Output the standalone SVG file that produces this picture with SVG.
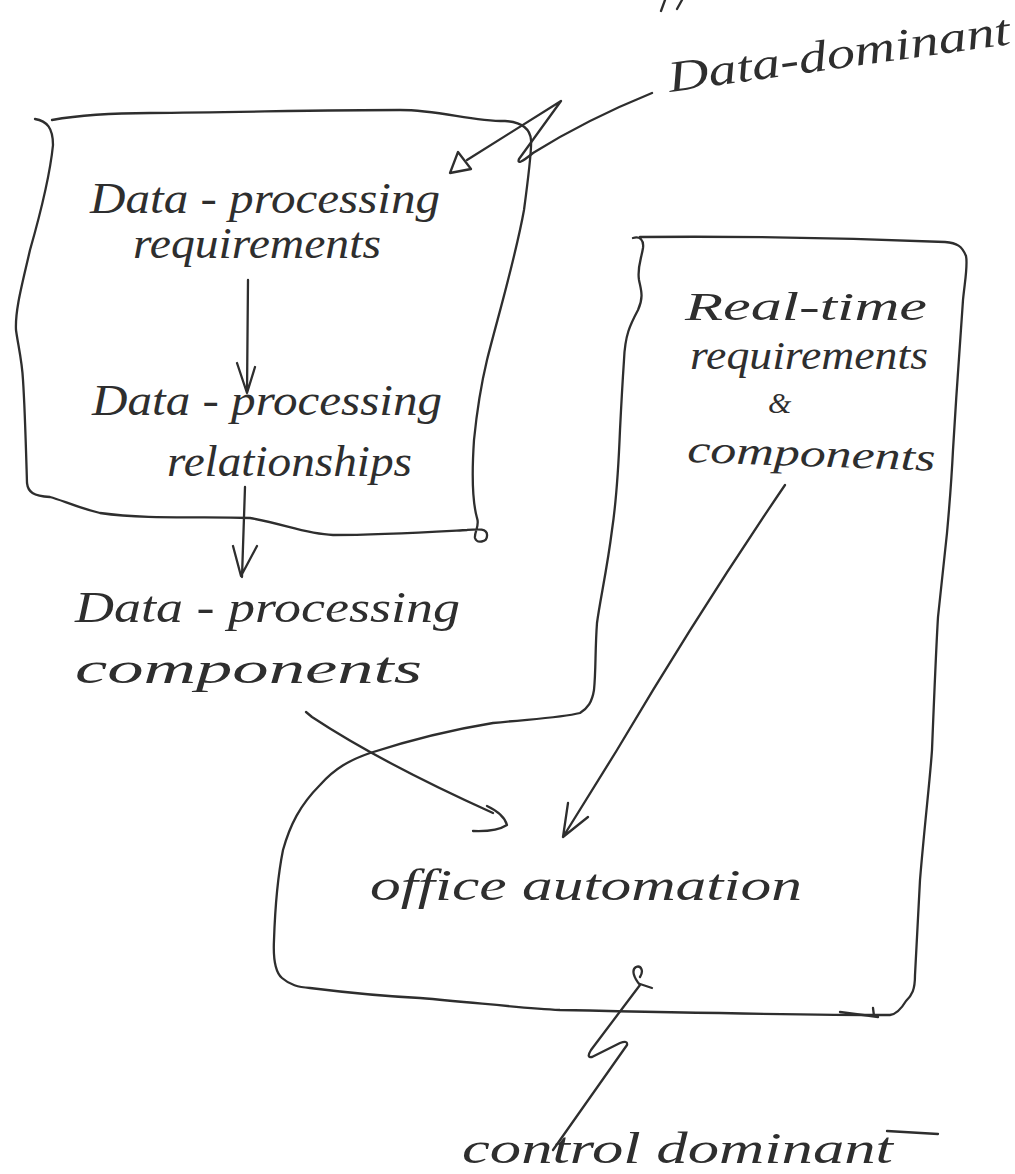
<svg xmlns="http://www.w3.org/2000/svg" width="1015" height="1174" viewBox="0 0 1015 1174">
<style>
.ink{fill:none;stroke:#2e2e2e;stroke-width:2.3;stroke-linecap:round;stroke-linejoin:round}
.hw{font-family:"Liberation Serif","DejaVu Serif",serif;font-style:italic;font-size:44px;fill:#2e2e2e}
.rt{font-size:39px}
</style>
<rect width="1015" height="1174" fill="#ffffff"/>
<g id="fragment-top">
<path class="ink" d="M665,0 L661,11 M682,0 L677,9"/>
</g>
<g id="data-dominant">
<text class="hw" x="670" y="92" textLength="345" lengthAdjust="spacingAndGlyphs" transform="rotate(-8 670 92)">Data-dominant</text>
</g>
<g id="data-processing-box">
<path class="ink" d="M35,119 C47,121 53,128 53,145 C50,175 40,215 30,250 C22,285 15,310 16,330 C18,345 22,360 23,380 C25,410 26,450 27,483 C28,492 33,496 50,497 C62,500 75,507 100,513 C150,520 200,516 250,518 C285,524 305,534 333,535 C380,535 430,532 467,530 C478,529 488,528 487,536 C487,542 477,544 475,538 C474,532 480,526 477,518 C472,500 472,470 474,440 C477,410 481,385 487,360 C497,320 515,260 524,210 C528,180 532,150 531,140 C530,127 520,122 505,121 C470,121 440,110 400,110 C330,110 250,112 150,113 C110,113 80,115 52,120"/>
</g>
<g id="dp-requirements">
<text class="hw" x="90" y="213" textLength="350" lengthAdjust="spacingAndGlyphs">Data - processing</text>
<text class="hw" x="133" y="258" textLength="248" lengthAdjust="spacingAndGlyphs">requirements</text>
</g>
<g id="dp-relationships">
<text class="hw" x="92" y="415" textLength="350" lengthAdjust="spacingAndGlyphs">Data - processing</text>
<text class="hw" x="167" y="476" textLength="245" lengthAdjust="spacingAndGlyphs">relationships</text>
</g>
<g id="dp-components">
<text class="hw" x="75" y="622" textLength="385" lengthAdjust="spacingAndGlyphs">Data - processing</text>
<text class="hw" x="75" y="683" textLength="347" lengthAdjust="spacingAndGlyphs">components</text>
</g>
<g id="realtime-office-box">
<path class="ink" d="M633,238 C640,236 644,240 643,248 C641,260 637,268 639,280 C641,290 644,297 638,310 C630,325 625,335 624,360 C622,390 621,410 620,430 C618,480 615,510 612,530 C607,570 600,600 597,623 C595,650 596,670 594,690 C592,702 588,708 580,713 C560,718 530,719 493,723 C450,730 410,740 370,753 C350,760 335,768 320,785 C300,805 290,825 283,850 C277,880 275,910 274,940 C273,960 275,972 282,978 C290,985 298,987 310,988 C350,993 380,996 420,998 C480,1003 520,1008 560,1010 C700,1013 800,1015 890,1015 C898,1014 903,1006 906,1001 C912,995 915,990 915,975 C917,940 918,915 920,880 C925,820 930,780 932,750 C934,700 936,650 938,617 C942,580 945,550 947,533 C950,500 952,470 953,450 C956,400 960,340 963,300 C965,280 968,265 966,256 C962,246 957,243 945,242 C850,238 750,236 640,237"/>
<path class="ink" d="M873,1008 L874,1016 M840,1012 L878,1017"/>
</g>
<g id="realtime">
<text class="hw rt" x="685" y="320" textLength="242" lengthAdjust="spacingAndGlyphs">Real-time</text>
<text class="hw rt" x="690" y="369" textLength="238" lengthAdjust="spacingAndGlyphs">requirements</text>
<text class="hw" x="768" y="413" style="font-size:30px">&amp;</text>
<text class="hw rt" x="687" y="462" textLength="248" lengthAdjust="spacingAndGlyphs" transform="rotate(2 687 462)">components</text>
</g>
<g id="office-automation">
<text class="hw" x="370" y="900" textLength="432" lengthAdjust="spacingAndGlyphs">office automation</text>
</g>
<g id="control-dominant">
<text class="hw" x="462" y="1163" textLength="431" lengthAdjust="spacingAndGlyphs">control dominant</text>
<path class="ink" d="M887,1131 L938,1134"/>
</g>
<g id="connectors">
<path class="ink" d="M652,93 C610,110 565,133 533,153 Q516,167 519,159 L561,101 L467,160"/>
<path class="ink" d="M458,152 L450,173 L471,169 Z"/>
<path class="ink" d="M248,280 L247,393 M237,363 L247,393 L255,367"/>
<path class="ink" d="M245,487 L242,577 M233,546 L241,576 L257,546"/>
<path class="ink" d="M306,712 L312,717 Q380,762 493,813 M487,806 Q504,814 507,825 Q496,832 473,831"/>
<path class="ink" d="M785,485 Q700,610 617,750 L563,837 M568,803 L563,837 L588,817"/>
<path class="ink" d="M553,1150 L627,1045 Q628,1040 620,1043 L592,1057 Q586,1058 591,1050 L640,985 M640,985 C634,978 631,970 636,967 C641,965 644,971 640,977 M640,984 L652,988"/>
</g>
</svg>
